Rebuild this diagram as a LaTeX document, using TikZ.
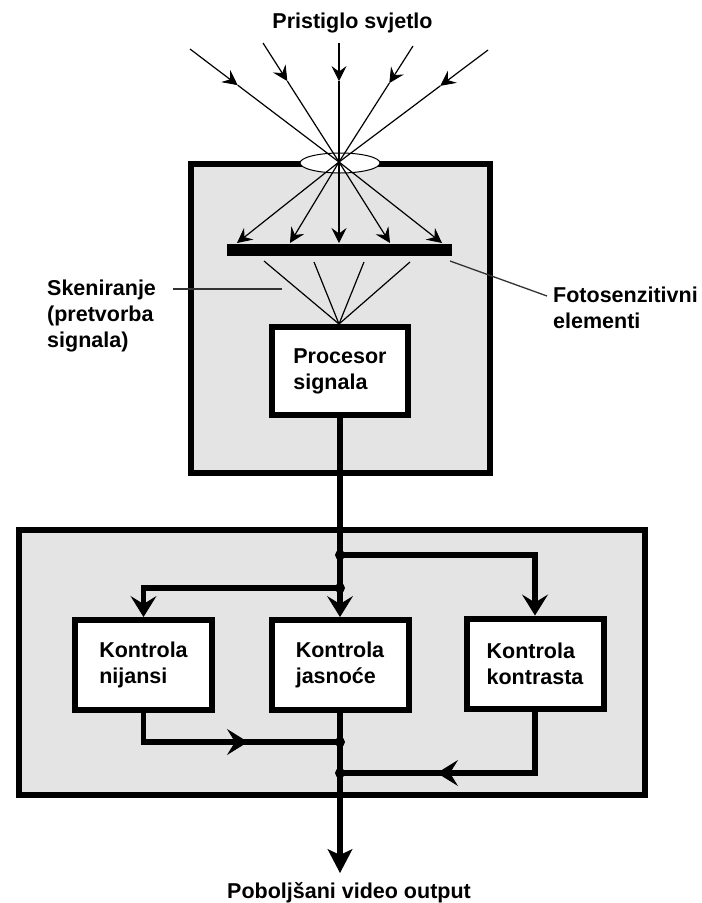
\documentclass[tikz,border=0pt]{standalone}
\usepackage{fontspec}
\setmainfont{Liberation Sans}
\usetikzlibrary{arrows.meta,shapes.geometric,calc}
\definecolor{boxgray}{RGB}{228,228,228}
\begin{document}
\begin{tikzpicture}[x=1pt,y=-1pt,
  font=\fontsize{21.5}{26}\selectfont\bfseries,
  bigtip/.tip={Stealth[length=21pt,width=26pt,inset=8pt,line width=1pt]},
  outtip/.tip={Stealth[length=24pt,width=25pt,inset=6pt,line width=1pt]},
  smalltip/.tip={Stealth[length=15pt,width=15pt,inset=5.5pt,line width=0.8pt]},
  container/.style={draw, line width=6pt, fill=boxgray, inner sep=0pt},
  block/.style={draw, line width=6pt, fill=white, align=left, inner sep=0pt,
    minimum width=137pt, minimum height=90pt},
  conn/.style={line width=5.5pt, line join=miter},
  ray/.style={line width=1.2pt},
  leader/.style={line width=1.3pt, draw=black!80},
  txt/.style={inner sep=0pt, align=left, anchor=north west}]
\useasboundingbox (0,0) rectangle (702,903);

% containers
\node[container, minimum width=299pt, minimum height=309.5pt] (cam) at (340.5,318.25) {};
\node[container, minimum width=626pt, minimum height=265.5pt] (ctrl) at (332,662.25) {};

% lens and sensor bar
\node[ellipse, draw, line width=1pt, fill=white, minimum width=80pt, minimum height=20pt, inner sep=0pt] (lens) at (340,163) {};
\node[fill=black, minimum width=225pt, minimum height=12pt, inner sep=0pt] (bar) at (339.5,250) {};

% blocks
\node[block, minimum width=136pt, minimum height=88pt] (proc) at (340,371) {Procesor\\signala};
\node[block] (nij) at (143.5,665) {Kontrola\\nijansi};
\node[block] (jas) at (340,665) {Kontrola\\jasnoće};
\node[block] (kon) at (535,663.5) {Kontrola\\kontrasta};

% labels
\node[anchor=north, inner sep=0pt] (title) at (352.5,13) {Pristiglo svjetlo};
\node[anchor=north, inner sep=0pt] (outlbl) at (349,882) {Poboljšani video output};
\node[txt] (skn) at (47,280) {Skeniranje\\(pretvorba\\signala)};
\node[txt] (foto) at (553,287) {Fotosenzitivni\\elementi};

% ray coordinates
\coordinate (f) at (339,162);
\coordinate (s1) at (190,49);
\coordinate (s2) at (263,43);
\coordinate (s3) at (339,43);
\coordinate (s4) at (413,46);
\coordinate (s5) at (488,50);
\coordinate (t1) at (237,243);
\coordinate (t2) at (290,243);
\coordinate (t3) at (339,243);
\coordinate (t4) at (390,243);
\coordinate (t5) at (442,243);
\foreach \i in {1,...,5}{
  \coordinate (m\i) at ($(s\i)!0.32!(f)$);
  \draw[ray,-{smalltip}] (s\i) -- (m\i);
  \draw[ray] (m\i) -- (f);
  \draw[ray,-{smalltip}] (f) -- (t\i);
}

% scanning lines
\coordinate (sc) at (339,324);
\coordinate (b1) at (264,261);
\coordinate (b2) at (314,262);
\coordinate (b3) at (364,262);
\coordinate (b4) at (410,262);
\foreach \i in {1,...,4}{ \draw[ray] (b\i) -- (sc); }

% leader lines
\coordinate (la) at (173,289);
\coordinate (lb) at (282,289);
\coordinate (lc) at (450,261);
\coordinate (ld) at (547,296);
\draw[leader] (la) -- (lb);
\draw[leader] (lc) -- (ld);

% signal connectors
\coordinate (j1) at (340,555);
\coordinate (j2) at (340,588);
\coordinate (j3) at (340,742);
\coordinate (j4) at (340,773);
\coordinate (a3) at (248,742);
\coordinate (a4) at (437,773);
\coordinate (otip) at (340,873);

\draw[conn,-{bigtip}] (proc.south) -- (jas.north);
\draw[conn,-{bigtip}] (j1) -| (kon.north);
\draw[conn,-{bigtip}] (j2) -| (nij.north);
\draw[conn] (nij.south) |- (j3);
\draw[conn,-{bigtip}] (nij.south |- j3) -- (a3);
\draw[conn] (kon.south) |- (j4);
\draw[conn,-{bigtip}] (kon.south |- j4) -- (a4);
\draw[conn,-{outtip}] (jas.south) -- (otip);

\foreach \j in {j1,j2,j3,j4}{ \fill (\j) circle (5pt); }
\end{tikzpicture}
\end{document}
